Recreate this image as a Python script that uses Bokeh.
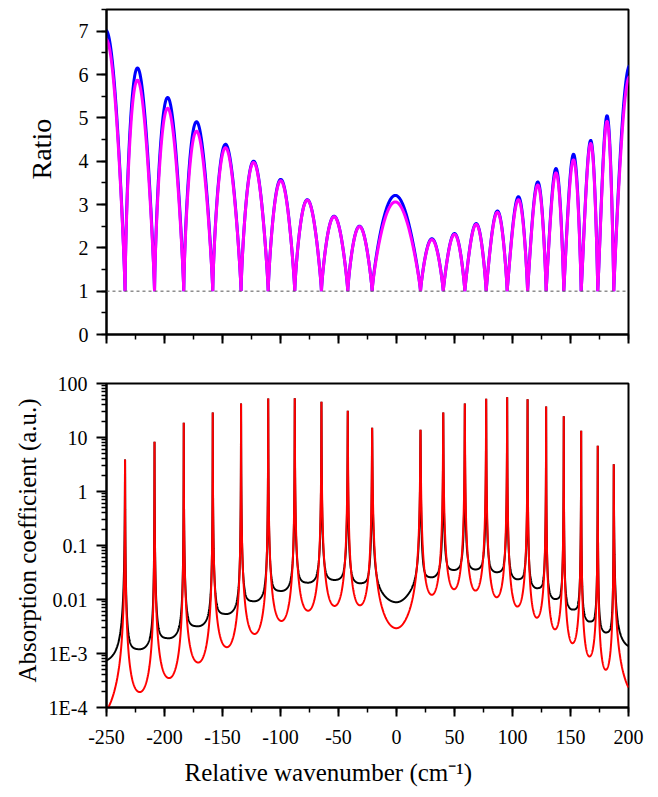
import numpy as np
from bokeh.plotting import figure
from bokeh.models import (Range1d, SingleIntervalTicker, FixedTicker, Span, Title,
                          CustomJSTickFormatter)
from bokeh.layouts import column
from bokeh.embed import file_html
from bokeh.resources import INLINE

# ---------------- data ----------------
resonance_x = [-234.0, -208.6, -183.4, -158.4, -134.0, -110.6, -87.7, -64.7, -42.0, -21.0,
               20.7, 40.3, 58.9, 77.3, 95.4, 113.0, 129.0, 144.2, 159.2, 173.5, 187.3]
ratio_edge_left = -266.0
ratio_edge_right = 213.0
arch_peak_x = [-250.5, -223.3, -197.3, -172.4, -147.4, -123.2, -99.8, -76.9, -53.8, -31.9,
               -1.0, 30.5, 50.0, 68.7, 87.0, 105.1, 121.8, 137.5, 152.6, 167.4, 181.5, 201.0]
ratio_blue_peak = [7.02, 6.15, 5.47, 4.91, 4.39, 4.00, 3.58, 3.11, 2.73, 2.50,
                   3.21, 2.21, 2.33, 2.56, 2.85, 3.18, 3.52, 3.83, 4.16, 4.48, 5.05, 6.20]
ratio_magenta_peak = [6.82, 5.87, 5.22, 4.69, 4.31, 3.97, 3.55, 3.10, 2.72, 2.49,
                      3.06, 2.19, 2.31, 2.54, 2.82, 3.11, 3.45, 3.73, 4.03, 4.41, 4.92, 5.95]

red_peak = [3.9, 8.3, 18.7, 29.0, 42.7, 52.7, 53.5, 45.7, 31.2, 15.1,
            13.9, 29.0, 42.7, 52.0, 55.8, 51.3, 37.6, 24.8, 13.3, 7.0, 3.2]
black_peak = [3.9, 8.3, 18.7, 29.0, 42.7, 52.7, 53.5, 45.7, 31.2, 15.1,
              13.9, 29.0, 42.7, 52.0, 55.8, 51.3, 37.6, 24.8, 13.3, 7.0, 3.2]
valley_edge_left = -252.0
valley_edge_right = 200.5
red_valley = [0.75e-4, 1.93e-4, 3.5e-4, 6.8e-4, 1.31e-3, 2.3e-3, 4.0e-3, 6.2e-3, 7.6e-3, 7.8e-3,
              2.94e-3, 1.22e-2, 1.55e-2, 1.46e-2, 1.10e-2, 7.4e-3, 4.6e-3, 2.8e-3, 1.55e-3,
              8.8e-4, 5.0e-4, 2.25e-4]
black_valley = [7.2e-4, 1.2e-3, 1.92e-3, 3.2e-3, 5.4e-3, 9.3e-3, 1.44e-2, 2.05e-2, 2.3e-2, 2.0e-2,
                8.9e-3, 2.58e-2, 3.52e-2, 3.6e-2, 3.2e-2, 2.37e-2, 1.62e-2, 1.02e-2, 6.5e-3,
                3.9e-3, 2.45e-3, 1.36e-3]

x_ticks_major = 50
log_ticks = [1e-4, 1e-3, 1e-2, 1e-1, 1.0, 10.0, 100.0]
log_tick_labels = ["1E-4", "1E-3", "0.01", "0.1", "1", "10", "100"]

FONT = "Times New Roman"


def ratio_curve(heights, q=0.85, n=90):
    dips = [ratio_edge_left] + resonance_x + [ratio_edge_right]
    xs, ys = [], []
    for i in range(len(dips) - 1):
        d0, d1 = dips[i], dips[i + 1]
        t = np.linspace(0.0, 1.0, n)
        tp = (arch_peak_x[i] - d0) / (d1 - d0)
        a = np.log(0.5) / np.log(tp)
        u = t ** a
        xs.append(d0 + t * (d1 - d0))
        ys.append(1.0 + (heights[i] - 1.0) * np.abs(np.sin(np.pi * u)) ** q)
    return np.concatenate(xs), np.concatenate(ys)


def absorption_curve(x, amps, valleys, frac):
    peaks = np.array(resonance_x)
    amps = np.array(amps)
    mids = [(peaks[i] + peaks[i + 1]) / 2 for i in range(len(peaks) - 1)]
    nodes = np.array([valley_edge_left] + mids + [valley_edge_right])
    V = np.array(valleys)
    lb = np.log(frac * V)
    logB = np.empty_like(x)
    for k in range(len(nodes) - 1):
        m = (x >= nodes[k]) & (x <= nodes[k + 1])
        s = (x[m] - nodes[k]) / (nodes[k + 1] - nodes[k])
        logB[m] = lb[k] + (lb[k + 1] - lb[k]) * (1 - np.cos(np.pi * s)) / 2
    logB[x < nodes[0]] = lb[0]
    logB[x > nodes[-1]] = lb[-1]
    y = np.exp(logB)
    nseg = len(peaks) + 1
    for j in range(nseg):
        if j == 0:
            m = x < peaks[0]
            bounds = [0]
            c = (1 - frac) * V[0]
        elif j == nseg - 1:
            m = x >= peaks[-1]
            bounds = [len(peaks) - 1]
            c = (1 - frac) * V[-1]
        else:
            m = (x >= peaks[j - 1]) & (x < peaks[j])
            bounds = [j - 1, j]
            c = (1 - frac) * V[j] / 2
        for b in bounds:
            d = abs(nodes[j] - peaks[b])
            w2 = c * d * d / (amps[b] - c)
            y[m] += amps[b] * w2 / ((x[m] - peaks[b]) ** 2 + w2)
    return y


xb, yb = ratio_curve(ratio_blue_peak)
xm, ym = ratio_curve(ratio_magenta_peak)
xa = np.union1d(np.linspace(-250, 200, 9001), np.array(resonance_x))
y_black = absorption_curve(xa, black_peak, black_valley, 0.88)
y_red = absorption_curve(xa, red_peak, red_valley, 0.43)


def style_axis(ax, label_size="20px"):
    ax.axis_line_width = 2
    ax.axis_line_color = "black"
    ax.major_tick_line_width = 2
    ax.minor_tick_line_width = 1.5
    ax.major_tick_in = 0
    ax.minor_tick_in = 0
    ax.major_tick_out = 10
    ax.minor_tick_out = 5
    ax.major_label_text_font = FONT
    ax.major_label_text_font_size = label_size
    ax.major_label_text_color = "black"


def side_title(text, size, align, offset, standoff):
    return Title(text=text, align=align, offset=offset, standoff=standoff,
                 text_font=FONT, text_font_size=size, text_font_style="normal",
                 text_color="black")


# ---------------- top panel ----------------
p1 = figure(width=658, height=354, output_backend="svg", toolbar_location=None,
            x_range=Range1d(-250, 200), y_range=Range1d(0, 7.5),
            min_border_left=106, min_border_right=30, min_border_top=9, min_border_bottom=20)
p1.grid.visible = False
p1.outline_line_color = "black"
p1.outline_line_width = 2

p1.add_layout(Span(location=1, dimension="width", line_color="#555555",
                   line_width=1, line_dash="3 3"))
p1.line(xb, yb, line_color="#0000FF", line_width=3)
p1.line(xm, ym, line_color="#FF00FF", line_width=3)

p1.xaxis.ticker = SingleIntervalTicker(interval=x_ticks_major, num_minor_ticks=2)
p1.yaxis.ticker = SingleIntervalTicker(interval=1, num_minor_ticks=2)
style_axis(p1.xaxis[0])
style_axis(p1.yaxis[0])
p1.xaxis.formatter = CustomJSTickFormatter(code="return ''")
p1.xaxis.major_label_standoff = 0
p1.xaxis.major_tick_out = 9
p1.yaxis.major_label_standoff = 8
p1.add_layout(side_title("Ratio", "28px", "left", 155, 38), "left")

# ---------------- bottom panel ----------------
p2 = figure(width=658, height=443, output_backend="svg", toolbar_location=None,
            x_range=p1.x_range, y_range=Range1d(1e-4, 100), y_axis_type="log",
            min_border_left=106, min_border_right=30, min_border_top=29, min_border_bottom=90)
p2.grid.visible = False
p2.outline_line_color = "black"
p2.outline_line_width = 2

p2.line(xa, y_black, line_color="black", line_width=2)
p2.line(xa, y_red, line_color="#FF0000", line_width=2)

p2.xaxis.ticker = SingleIntervalTicker(interval=x_ticks_major, num_minor_ticks=2)
p2.xaxis.formatter = CustomJSTickFormatter(code="return tick.toString()")
minor = [k * 10.0 ** e for e in range(-4, 2) for k in range(2, 10)]
p2.yaxis.ticker = FixedTicker(ticks=log_ticks, minor_ticks=minor)
p2.yaxis.major_label_overrides = {v: s for v, s in zip(log_ticks, log_tick_labels)}
style_axis(p2.xaxis[0])
style_axis(p2.yaxis[0])
p2.xaxis.major_tick_out = 9
p2.xaxis.major_label_standoff = 13
p2.yaxis.major_label_standoff = 9
p2.add_layout(side_title("Absorption coefficient (a.u.)", "25px", "left", 25, 10), "left")
p2.add_layout(side_title("Relative wavenumber (cm\u207b\u00b9)", "25px", "left", 78, 20), "below")

layout = column(p1, p2, spacing=0)
open("out.html", "w").write(file_html(layout, INLINE))
